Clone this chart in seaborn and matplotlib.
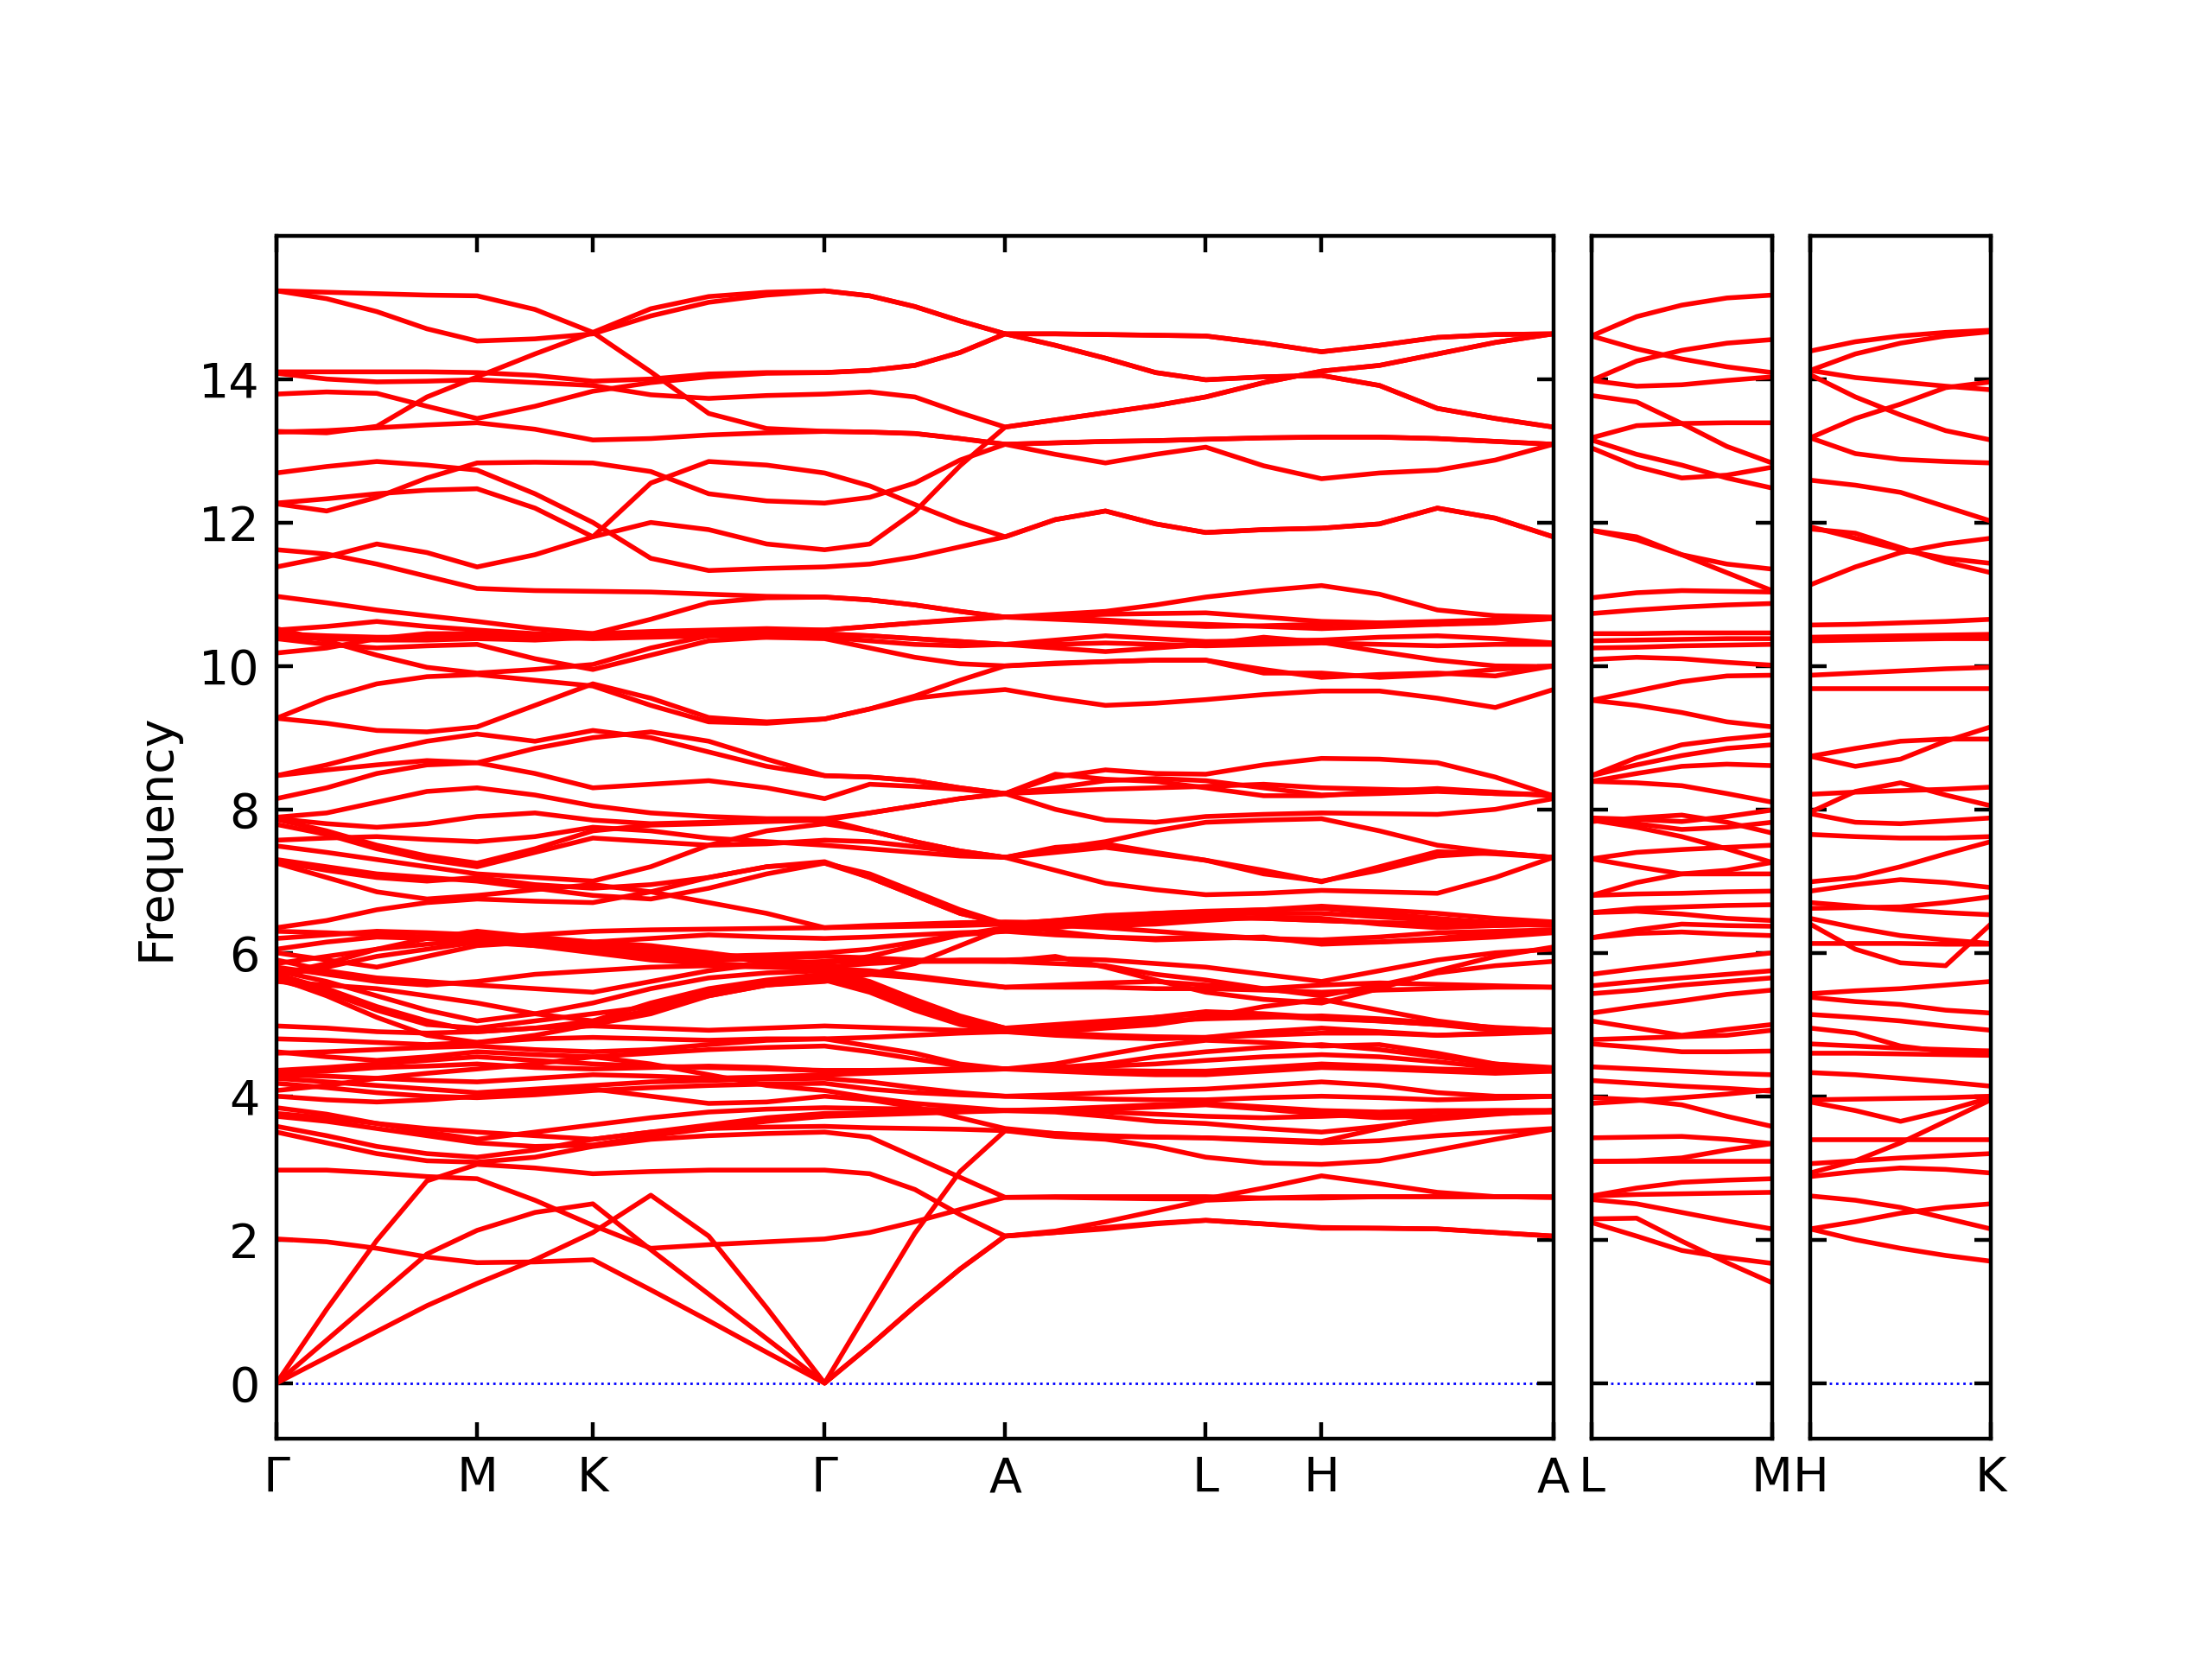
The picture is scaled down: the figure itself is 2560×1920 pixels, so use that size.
import numpy as np
import pandas as pd
import matplotlib
matplotlib.use("Agg")
import matplotlib.pyplot as plt
import seaborn as sns

# path 1: G-M-K-G-A-L-H-A, sampled at 25 points (quarters on long legs, halves on M-K and L-H)
labels_main = ["Γ", "M", "K", "Γ", "A", "L", "H", "A"]
seg_main = [1.0, 0.577, 1.155, 0.9, 1.0, 0.577, 1.155]
steps_main = [4, 2, 4, 4, 4, 2, 4]
labels_lm = ["L", "M"]
labels_hk = ["H", "K"]
seg_side = [0.9]
steps_side = [4]

bands_top = [
    [15.23, 15.21, 15.19, 15.17, 15.16, 14.97, 14.65, 14.10, 13.52, 13.31, 13.27, 13.26, 13.24, 13.17, 13.09, 12.95, 12.83, 12.95, 13.05, 12.79, 12.61, 12.69, 12.73, 12.87, 13.09],
    [15.23, 15.12, 14.94, 14.70, 14.53, 14.56, 14.63, 14.88, 15.07, 15.17, 15.23, 15.16, 15.01, 14.81, 14.63, 14.63, 14.62, 14.61, 14.60, 14.50, 14.38, 14.47, 14.58, 14.62, 14.63],
    [13.27, 13.25, 13.34, 13.75, 14.03, 14.35, 14.65, 14.98, 15.15, 15.21, 15.23, 15.16, 15.01, 14.81, 14.63, 14.47, 14.29, 14.09, 13.99, 14.03, 14.05, 13.91, 13.59, 13.45, 13.33],
    [14.10, 14.10, 14.10, 14.10, 14.09, 14.05, 13.97, 14.00, 14.07, 14.09, 14.09, 14.12, 14.19, 14.37, 14.63, 14.63, 14.62, 14.61, 14.60, 14.50, 14.38, 14.47, 14.58, 14.62, 14.63],
    [14.08, 14.00, 13.96, 13.97, 13.99, 13.95, 13.91, 13.78, 13.73, 13.77, 13.79, 13.82, 13.75, 13.53, 13.33, 13.43, 13.53, 13.63, 13.75, 13.95, 14.11, 14.19, 14.35, 14.51, 14.63],
    [13.79, 13.82, 13.80, 13.62, 13.45, 13.62, 13.83, 13.95, 14.03, 14.08, 14.09, 14.12, 14.19, 14.37, 14.63, 14.47, 14.29, 14.09, 13.99, 14.03, 14.05, 13.91, 13.59, 13.45, 13.33],
    [13.26, 13.28, 13.32, 13.36, 13.39, 13.30, 13.15, 13.17, 13.22, 13.25, 13.27, 13.26, 13.24, 13.17, 13.09, 13.11, 13.13, 13.14, 13.16, 13.18, 13.19, 13.19, 13.17, 13.13, 13.09],
    [12.69, 12.78, 12.85, 12.80, 12.73, 12.40, 12.00, 11.50, 11.33, 11.36, 11.38, 11.42, 11.52, 11.66, 11.80, 12.04, 12.16, 11.98, 11.86, 11.90, 11.92, 11.98, 12.20, 12.06, 11.80],
    [12.27, 12.33, 12.40, 12.45, 12.47, 12.20, 11.80, 12.00, 11.90, 11.70, 11.62, 11.70, 12.15, 12.79, 13.33, 13.43, 13.53, 13.63, 13.75, 13.95, 14.11, 14.19, 14.35, 14.51, 14.63],
    [12.26, 12.16, 12.35, 12.62, 12.83, 12.84, 12.83, 12.71, 12.40, 12.30, 12.27, 12.35, 12.55, 12.87, 13.09, 13.11, 13.13, 13.14, 13.16, 13.18, 13.19, 13.19, 13.17, 13.13, 13.09],
    [11.62, 11.56, 11.42, 11.25, 11.08, 11.05, 11.04, 11.03, 11.00, 10.97, 10.96, 10.92, 10.85, 10.76, 10.68, 10.72, 10.76, 10.85, 10.96, 11.05, 11.12, 11.00, 10.78, 10.70, 10.68],
    [11.38, 11.52, 11.70, 11.58, 11.38, 11.55, 11.80, 12.55, 12.85, 12.80, 12.69, 12.51, 12.25, 12.00, 11.80, 12.04, 12.16, 11.98, 11.86, 11.90, 11.92, 11.98, 12.20, 12.06, 11.80],
]

bands_upper = [
    [10.97, 10.88, 10.78, 10.70, 10.62, 10.52, 10.45, 10.65, 10.88, 10.95, 10.96, 10.92, 10.85, 10.76, 10.68, 10.70, 10.72, 10.73, 10.74, 10.68, 10.62, 10.60, 10.58, 10.60, 10.66],
    [10.50, 10.55, 10.62, 10.55, 10.50, 10.45, 10.42, 10.44, 10.46, 10.48, 10.50, 10.55, 10.60, 10.65, 10.68, 10.65, 10.62, 10.58, 10.55, 10.56, 10.58, 10.60, 10.62, 10.64, 10.66],
    [10.45, 10.42, 10.40, 10.40, 10.42, 10.40, 10.38, 10.40, 10.42, 10.44, 10.44, 10.42, 10.38, 10.34, 10.30, 10.36, 10.42, 10.38, 10.34, 10.35, 10.36, 10.40, 10.42, 10.38, 10.32],
    [10.40, 10.38, 10.36, 10.36, 10.38, 10.36, 10.40, 10.45, 10.43, 10.40, 10.38, 10.25, 10.12, 10.03, 10.00, 10.03, 10.06, 10.08, 10.08, 9.95, 9.84, 9.88, 9.90, 9.86, 10.00],
    [10.38, 10.30, 10.25, 10.28, 10.30, 10.10, 9.95, 10.15, 10.35, 10.40, 10.40, 10.35, 10.30, 10.28, 10.30, 10.25, 10.20, 10.25, 10.30, 10.40, 10.33, 10.20, 10.08, 10.00, 9.99],
    [10.18, 10.25, 10.38, 10.45, 10.45, 10.40, 10.45, 10.48, 10.50, 10.52, 10.50, 10.55, 10.60, 10.64, 10.68, 10.68, 10.64, 10.60, 10.58, 10.55, 10.52, 10.55, 10.58, 10.62, 10.66],
    [10.52, 10.35, 10.15, 9.98, 9.90, 9.95, 10.02, 10.25, 10.42, 10.45, 10.45, 10.42, 10.38, 10.34, 10.30, 10.30, 10.32, 10.30, 10.28, 10.30, 10.32, 10.30, 10.28, 10.30, 10.30],
    [9.27, 9.20, 9.10, 9.08, 9.15, 9.45, 9.75, 9.55, 9.28, 9.22, 9.26, 9.40, 9.58, 9.80, 10.00, 10.04, 10.06, 10.08, 10.08, 9.90, 9.90, 9.84, 9.88, 9.95, 10.00],
    [9.27, 9.55, 9.75, 9.85, 9.88, 9.80, 9.72, 9.45, 9.22, 9.20, 9.26, 9.40, 9.55, 9.62, 9.67, 9.55, 9.45, 9.48, 9.53, 9.60, 9.65, 9.65, 9.55, 9.42, 9.67],
    [8.47, 8.62, 8.80, 8.95, 9.05, 8.95, 9.10, 9.00, 8.80, 8.60, 8.47, 8.45, 8.40, 8.30, 8.22, 8.45, 8.55, 8.50, 8.49, 8.62, 8.71, 8.70, 8.65, 8.45, 8.19],
    [8.15, 8.30, 8.50, 8.62, 8.65, 8.50, 8.30, 8.35, 8.40, 8.30, 8.15, 8.35, 8.32, 8.28, 8.22, 8.49, 8.42, 8.39, 8.30, 8.19, 8.19, 8.25, 8.29, 8.24, 8.19],
    [8.47, 8.55, 8.62, 8.68, 8.65, 8.85, 9.00, 9.08, 8.95, 8.70, 8.47, 8.45, 8.40, 8.30, 8.22, 8.25, 8.28, 8.30, 8.32, 8.35, 8.30, 8.28, 8.26, 8.22, 8.20],
]

bands_middle = [
    [7.89, 7.95, 8.10, 8.25, 8.30, 8.20, 8.05, 7.95, 7.90, 7.87, 7.87, 7.95, 8.05, 8.15, 8.22, 8.00, 7.85, 7.82, 7.90, 7.93, 7.95, 7.94, 7.93, 8.00, 8.15],
    [7.87, 7.80, 7.75, 7.80, 7.90, 7.95, 7.85, 7.80, 7.82, 7.85, 7.86, 7.70, 7.55, 7.42, 7.33, 7.47, 7.52, 7.40, 7.29, 7.15, 6.99, 7.20, 7.41, 7.38, 7.33],
    [7.86, 7.70, 7.50, 7.35, 7.25, 7.45, 7.70, 7.78, 7.80, 7.83, 7.85, 7.95, 8.05, 8.15, 8.22, 8.30, 8.40, 8.43, 8.40, 8.30, 8.20, 8.22, 8.25, 8.22, 8.20],
    [7.79, 7.65, 7.45, 7.30, 7.20, 7.40, 7.60, 7.55, 7.50, 7.52, 7.57, 7.55, 7.48, 7.40, 7.33, 7.15, 6.97, 6.88, 6.81, 6.83, 6.87, 6.85, 6.83, 7.05, 7.33],
    [7.57, 7.60, 7.62, 7.58, 7.55, 7.62, 7.75, 7.70, 7.60, 7.55, 7.50, 7.45, 7.40, 7.35, 7.33, 7.45, 7.55, 7.70, 7.82, 7.85, 7.87, 7.70, 7.50, 7.40, 7.33],
    [7.49, 7.40, 7.30, 7.20, 7.10, 7.05, 7.00, 7.20, 7.50, 7.70, 7.80, 7.70, 7.55, 7.42, 7.33, 7.40, 7.47, 7.38, 7.29, 7.10, 7.00, 7.15, 7.35, 7.40, 7.33],
    [7.27, 7.15, 7.05, 7.00, 7.05, 6.95, 6.90, 6.95, 7.05, 7.20, 7.27, 7.05, 6.80, 6.55, 6.40, 6.45, 6.52, 6.55, 6.57, 6.60, 6.65, 6.60, 6.55, 6.48, 6.43],
    [7.25, 7.05, 6.85, 6.75, 6.80, 6.88, 6.95, 6.85, 6.70, 6.55, 6.35, 6.38, 6.40, 6.42, 6.43, 6.42, 6.38, 6.40, 6.45, 6.50, 6.48, 6.40, 6.35, 6.38, 6.40],
    [7.30, 7.20, 7.10, 7.05, 7.00, 6.90, 6.80, 6.75, 6.90, 7.10, 7.25, 7.10, 6.85, 6.60, 6.40, 6.40, 6.42, 6.45, 6.48, 6.48, 6.45, 6.42, 6.40, 6.40, 6.40],
    [6.35, 6.45, 6.60, 6.70, 6.75, 6.72, 6.70, 6.85, 7.05, 7.20, 7.25, 7.05, 6.80, 6.55, 6.40, 6.30, 6.22, 6.18, 6.20, 6.22, 6.12, 6.15, 6.20, 6.28, 6.30],
    [6.30, 6.28, 6.25, 6.22, 6.20, 6.25, 6.30, 6.32, 6.33, 6.34, 6.35, 6.36, 6.37, 6.38, 6.40, 6.45, 6.50, 6.55, 6.58, 6.60, 6.62, 6.55, 6.48, 6.42, 6.40],
    [6.20, 6.25, 6.30, 6.28, 6.25, 6.20, 6.15, 6.20, 6.25, 6.22, 6.20, 6.22, 6.25, 6.28, 6.30, 6.35, 6.42, 6.48, 6.52, 6.48, 6.45, 6.42, 6.40, 6.38, 6.40],
    [6.05, 6.15, 6.22, 6.20, 6.15, 6.10, 6.05, 6.00, 5.95, 5.97, 6.00, 6.05, 6.15, 6.25, 6.30, 6.25, 6.22, 6.20, 6.22, 6.20, 6.15, 6.15, 6.18, 6.22, 6.28],
    [6.00, 5.90, 5.80, 5.95, 6.10, 6.15, 6.05, 5.95, 5.90, 5.92, 5.95, 5.93, 5.90, 5.89, 5.88, 5.95, 5.80, 5.62, 5.45, 5.35, 5.30, 5.50, 5.75, 5.95, 6.08],
    [5.85, 5.95, 6.05, 6.12, 6.18, 6.10, 6.00, 5.90, 5.85, 5.82, 5.80, 5.85, 5.88, 5.90, 5.90, 5.92, 5.90, 5.85, 5.80, 5.70, 5.60, 5.75, 5.90, 6.00, 6.05],
    [5.90, 5.75, 5.65, 5.60, 5.55, 5.50, 5.45, 5.60, 5.75, 5.85, 5.88, 5.88, 5.88, 5.88, 5.88, 5.85, 5.82, 5.70, 5.62, 5.50, 5.40, 5.55, 5.72, 5.82, 5.88],
    [5.80, 5.70, 5.60, 5.55, 5.60, 5.70, 5.75, 5.80, 5.82, 5.80, 5.78, 5.75, 5.68, 5.60, 5.52, 5.52, 5.52, 5.50, 5.50, 5.48, 5.45, 5.48, 5.50, 5.52, 5.52],
    [5.75, 5.60, 5.40, 5.20, 5.05, 5.15, 5.30, 5.50, 5.65, 5.72, 5.75, 5.60, 5.35, 5.12, 4.95, 5.00, 5.05, 5.10, 5.15, 5.12, 5.08, 5.05, 5.00, 4.95, 4.92],
    [5.70, 5.50, 5.25, 5.05, 4.90, 4.95, 5.05, 5.30, 5.50, 5.62, 5.70, 5.55, 5.30, 5.10, 4.95, 4.90, 4.95, 5.00, 5.10, 5.25, 5.35, 5.20, 5.05, 4.95, 4.92],
    [5.65, 5.40, 5.10, 4.85, 4.75, 4.85, 5.00, 5.15, 5.40, 5.55, 5.62, 5.45, 5.20, 5.00, 4.90, 4.85, 4.82, 4.80, 4.82, 4.90, 4.95, 4.90, 4.85, 4.88, 4.90],
    [5.62, 5.45, 5.20, 5.00, 4.95, 5.05, 5.15, 5.25, 5.45, 5.60, 5.65, 5.50, 5.25, 5.05, 4.92, 4.95, 5.00, 5.05, 5.08, 5.10, 5.12, 5.08, 5.02, 4.96, 4.92],
    [5.60, 5.55, 5.50, 5.40, 5.30, 5.15, 5.05, 5.20, 5.40, 5.55, 5.60, 5.70, 5.85, 6.10, 6.35, 6.40, 6.45, 6.50, 6.55, 6.55, 6.55, 6.50, 6.45, 6.40, 6.38],
    [5.68, 5.80, 5.95, 6.05, 6.15, 6.20, 6.10, 6.05, 6.00, 5.90, 5.85, 5.95, 6.10, 6.25, 6.35, 6.38, 6.35, 6.30, 6.25, 6.20, 6.18, 6.22, 6.28, 6.30, 6.32],
    [5.70, 5.85, 6.05, 6.20, 6.30, 6.22, 6.15, 6.10, 6.00, 5.85, 5.72, 5.70, 5.65, 5.58, 5.52, 5.55, 5.58, 5.60, 5.55, 5.50, 5.55, 5.58, 5.56, 5.54, 5.52],
]

bands_lower = [
    [4.98, 4.95, 4.90, 4.88, 4.90, 4.95, 4.98, 4.95, 4.92, 4.95, 4.98, 4.96, 4.94, 4.92, 4.90, 4.95, 5.00, 5.10, 5.18, 5.15, 5.10, 5.05, 5.00, 4.92, 4.90],
    [4.80, 4.78, 4.75, 4.72, 4.75, 4.80, 4.82, 4.80, 4.78, 4.80, 4.80, 4.82, 4.85, 4.88, 4.90, 4.88, 4.85, 4.83, 4.82, 4.85, 4.88, 4.88, 4.85, 4.87, 4.90],
    [4.62, 4.55, 4.50, 4.55, 4.62, 4.58, 4.55, 4.60, 4.65, 4.68, 4.70, 4.62, 4.52, 4.42, 4.38, 4.40, 4.45, 4.55, 4.62, 4.68, 4.72, 4.65, 4.55, 4.45, 4.40],
    [4.60, 4.62, 4.65, 4.68, 4.70, 4.65, 4.62, 4.65, 4.72, 4.78, 4.80, 4.70, 4.60, 4.45, 4.38, 4.45, 4.58, 4.70, 4.78, 4.75, 4.70, 4.72, 4.60, 4.45, 4.38],
    [4.36, 4.40, 4.45, 4.50, 4.55, 4.50, 4.45, 4.42, 4.40, 4.38, 4.36, 4.36, 4.36, 4.37, 4.38, 4.40, 4.42, 4.45, 4.50, 4.55, 4.58, 4.55, 4.48, 4.40, 4.38],
    [4.32, 4.35, 4.40, 4.42, 4.45, 4.40, 4.38, 4.40, 4.42, 4.40, 4.35, 4.36, 4.37, 4.38, 4.38, 4.38, 4.36, 4.35, 4.35, 4.40, 4.45, 4.42, 4.38, 4.36, 4.35],
    [4.30, 4.28, 4.25, 4.22, 4.20, 4.25, 4.30, 4.28, 4.25, 4.27, 4.30, 4.32, 4.34, 4.36, 4.38, 4.35, 4.32, 4.30, 4.30, 4.35, 4.40, 4.38, 4.35, 4.32, 4.35],
    [4.25, 4.20, 4.15, 4.10, 4.05, 4.10, 4.15, 4.20, 4.22, 4.24, 4.25, 4.20, 4.12, 4.05, 4.00, 4.02, 4.05, 4.08, 4.10, 4.15, 4.20, 4.15, 4.05, 4.00, 4.00],
    [4.18, 4.12, 4.05, 4.00, 3.98, 4.02, 4.08, 4.12, 4.15, 4.17, 4.18, 4.10, 4.05, 4.02, 4.00, 3.98, 3.96, 3.95, 3.95, 3.98, 4.00, 3.98, 3.95, 3.97, 4.00],
    [4.08, 4.15, 4.25, 4.32, 4.38, 4.45, 4.55, 4.45, 4.30, 4.15, 4.08, 3.98, 3.90, 3.85, 3.80, 3.80, 3.82, 3.85, 3.88, 3.82, 3.75, 3.70, 3.72, 3.76, 3.80],
    [4.00, 3.95, 3.92, 3.95, 4.00, 4.05, 4.10, 4.00, 3.90, 3.92, 4.00, 3.95, 3.85, 3.70, 3.55, 3.48, 3.44, 3.43, 3.42, 3.38, 3.35, 3.38, 3.45, 3.50, 3.55],
    [3.84, 3.75, 3.62, 3.50, 3.40, 3.50, 3.60, 3.70, 3.78, 3.82, 3.84, 3.83, 3.82, 3.81, 3.80, 3.78, 3.72, 3.65, 3.62, 3.55, 3.50, 3.58, 3.68, 3.75, 3.80],
    [3.76, 3.70, 3.62, 3.55, 3.50, 3.45, 3.40, 3.50, 3.60, 3.70, 3.76, 3.77, 3.78, 3.79, 3.80, 3.80, 3.78, 3.75, 3.72, 3.70, 3.72, 3.75, 3.78, 3.80, 3.80],
    [3.72, 3.65, 3.55, 3.45, 3.35, 3.30, 3.32, 3.45, 3.55, 3.65, 3.72, 3.74, 3.76, 3.78, 3.80, 3.82, 3.85, 3.88, 3.90, 3.85, 3.80, 3.78, 3.80, 3.80, 3.80],
    [3.58, 3.45, 3.30, 3.20, 3.15, 3.25, 3.40, 3.50, 3.55, 3.57, 3.58, 3.56, 3.55, 3.54, 3.52, 3.48, 3.45, 3.43, 3.42, 3.40, 3.37, 3.55, 3.72, 3.76, 3.78],
    [3.50, 3.35, 3.20, 3.10, 3.08, 3.15, 3.30, 3.40, 3.45, 3.48, 3.50, 3.43, 3.15, 2.87, 2.59, 2.60, 2.60, 2.60, 2.60, 2.58, 2.58, 2.60, 2.60, 2.60, 2.59],
    [2.97, 2.97, 2.93, 2.88, 2.85, 2.55, 2.20, 1.88, 1.93, 1.97, 2.01, 2.10, 2.25, 2.42, 2.59, 2.59, 2.58, 2.57, 2.57, 2.72, 2.89, 2.78, 2.66, 2.60, 2.59],
    [2.01, 1.97, 1.88, 1.76, 1.68, 1.69, 1.72, 1.30, 0.87, 0.43, 0.00, 1.05, 2.09, 2.95, 3.52, 3.44, 3.40, 3.30, 3.15, 3.07, 3.05, 3.10, 3.25, 3.40, 3.54],
    [0.00, 1.03, 1.99, 2.82, 3.05, 3.00, 2.92, 2.95, 2.97, 2.97, 2.97, 2.92, 2.70, 2.35, 2.05, 2.10, 2.15, 2.22, 2.27, 2.22, 2.17, 2.16, 2.15, 2.10, 2.05],
    [0.00, 0.60, 1.20, 1.80, 2.13, 2.38, 2.50, 1.86, 1.24, 0.62, 0.00, 0.52, 1.07, 1.59, 2.05, 2.12, 2.25, 2.40, 2.55, 2.58, 2.60, 2.60, 2.60, 2.60, 2.60],
    [0.00, 0.36, 0.72, 1.08, 1.39, 1.72, 2.10, 2.62, 2.05, 1.05, 0.00, 0.52, 1.07, 1.59, 2.05, 2.10, 2.17, 2.23, 2.27, 2.22, 2.16, 2.16, 2.15, 2.10, 2.05],
]

# L-M panel, 5 samples each
bands_lm = [
    [14.60, 14.87, 15.03, 15.13, 15.17], [14.60, 14.42, 14.28, 14.17, 14.09],
    [13.98, 14.25, 14.40, 14.50, 14.55], [13.98, 13.90, 13.92, 13.98, 14.03],
    [13.77, 13.68, 13.38, 13.06, 12.83], [13.18, 13.35, 13.38, 13.39, 13.39],
    [13.04, 12.78, 12.62, 12.66, 12.77], [13.15, 12.95, 12.80, 12.62, 12.48],
    [11.89, 11.80, 11.55, 11.42, 11.35], [11.89, 11.76, 11.55, 11.30, 11.05],
    [10.95, 11.02, 11.05, 11.04, 11.03], [10.73, 10.78, 10.82, 10.85, 10.87],
    [10.45, 10.45, 10.46, 10.46, 10.46], [10.35, 10.36, 10.37, 10.38, 10.38],
    [10.25, 10.26, 10.28, 10.29, 10.30], [10.09, 10.12, 10.10, 10.05, 10.01],
    [9.52, 9.65, 9.78, 9.86, 9.87], [9.52, 9.45, 9.35, 9.22, 9.15],
    [8.47, 8.72, 8.90, 8.98, 9.04], [8.47, 8.62, 8.75, 8.85, 8.90],
    [8.39, 8.50, 8.60, 8.63, 8.61], [8.39, 8.37, 8.33, 8.22, 8.10],
    [7.88, 7.86, 7.83, 7.90, 7.99], [7.83, 7.88, 7.92, 7.82, 7.67],
    [7.85, 7.80, 7.72, 7.75, 7.82], [7.85, 7.75, 7.62, 7.45, 7.26],
    [7.31, 7.40, 7.44, 7.47, 7.50], [7.31, 7.20, 7.10, 7.15, 7.26],
    [6.80, 6.98, 7.10, 7.10, 7.10], [6.80, 6.82, 6.83, 6.85, 6.86],
    [6.56, 6.62, 6.64, 6.66, 6.67], [6.56, 6.58, 6.54, 6.48, 6.45],
    [6.21, 6.32, 6.40, 6.38, 6.37], [6.21, 6.27, 6.29, 6.26, 6.24],
    [5.70, 5.78, 5.85, 5.93, 6.00], [5.54, 5.60, 5.65, 5.70, 5.75],
    [5.43, 5.48, 5.55, 5.60, 5.65], [5.16, 5.25, 5.33, 5.42, 5.48],
    [5.05, 4.95, 4.85, 4.93, 5.00], [4.79, 4.81, 4.83, 4.85, 4.92],
    [4.73, 4.68, 4.62, 4.62, 4.63], [4.41, 4.38, 4.35, 4.32, 4.30],
    [4.22, 4.18, 4.14, 4.11, 4.07], [3.90, 3.94, 3.98, 4.03, 4.09],
    [3.98, 3.95, 3.88, 3.72, 3.58], [3.42, 3.43, 3.44, 3.40, 3.34],
    [3.09, 3.10, 3.14, 3.25, 3.34], [3.09, 3.09, 3.09, 3.09, 3.09],
    [2.61, 2.72, 2.80, 2.83, 2.85], [2.61, 2.63, 2.64, 2.65, 2.66],
    [2.56, 2.50, 2.38, 2.26, 2.15], [2.29, 2.30, 1.98, 1.68, 1.40],
    [2.24, 2.05, 1.85, 1.75, 1.67],
]

# H-K panel, 5 samples each
bands_hk = [
    [14.39, 14.52, 14.60, 14.65, 14.68], [14.12, 14.35, 14.50, 14.60, 14.66],
    [14.12, 14.02, 13.96, 13.90, 13.85], [14.06, 13.75, 13.50, 13.28, 13.15],
    [13.18, 13.45, 13.65, 13.88, 13.96], [13.18, 12.96, 12.88, 12.85, 12.83],
    [12.59, 12.52, 12.42, 12.22, 12.02], [11.94, 11.78, 11.62, 11.50, 11.43],
    [11.91, 11.85, 11.65, 11.45, 11.30], [11.13, 11.38, 11.58, 11.70, 11.78],
    [10.57, 10.58, 10.60, 10.62, 10.65], [10.40, 10.41, 10.42, 10.43, 10.44],
    [10.35, 10.36, 10.37, 10.38, 10.38], [9.87, 9.90, 9.93, 9.96, 9.98],
    [9.68, 9.68, 9.68, 9.68, 9.68], [8.74, 8.60, 8.70, 8.95, 9.15],
    [8.74, 8.85, 8.95, 8.98, 8.98], [8.21, 8.24, 8.26, 8.28, 8.31],
    [7.96, 8.25, 8.37, 8.20, 8.05], [7.94, 7.82, 7.80, 7.84, 7.88],
    [7.65, 7.62, 7.60, 7.60, 7.62], [6.99, 7.05, 7.20, 7.38, 7.55],
    [6.86, 6.95, 7.02, 6.98, 6.91], [6.70, 6.65, 6.60, 6.56, 6.53],
    [6.62, 6.63, 6.64, 6.70, 6.78], [6.48, 6.35, 6.24, 6.18, 6.13],
    [6.40, 6.05, 5.86, 5.82, 6.40], [6.13, 6.13, 6.13, 6.12, 6.12],
    [5.43, 5.47, 5.50, 5.55, 5.60], [5.38, 5.32, 5.28, 5.20, 5.16],
    [5.14, 5.10, 5.05, 4.98, 4.92], [4.95, 4.88, 4.70, 4.62, 4.63],
    [4.73, 4.70, 4.67, 4.65, 4.63], [4.60, 4.60, 4.59, 4.58, 4.57],
    [4.33, 4.30, 4.25, 4.20, 4.14], [3.95, 3.96, 3.97, 3.98, 4.00],
    [3.92, 3.80, 3.65, 3.80, 3.98], [3.39, 3.39, 3.39, 3.39, 3.39],
    [3.06, 3.10, 3.14, 3.17, 3.20], [2.93, 3.10, 3.35, 3.65, 3.95],
    [2.88, 2.95, 3.00, 2.98, 2.93], [2.61, 2.55, 2.45, 2.30, 2.15],
    [2.15, 2.25, 2.37, 2.45, 2.50], [2.15, 2.00, 1.88, 1.78, 1.70],
]


def path_positions(seg_lengths, steps):
    xs = [0.0]
    ticks = [0.0]
    for length, n in zip(seg_lengths, steps):
        start = ticks[-1]
        xs += list(start + length * np.arange(1, n + 1) / n)
        ticks.append(start + length)
    return np.array(xs), ticks


def to_frame(bands, xs):
    rows = []
    for i, band in enumerate(bands):
        assert len(band) == len(xs), (i, len(band))
        for x, f in zip(xs, band):
            rows.append({"x": x, "freq": f, "band": i})
    return pd.DataFrame(rows)


x_main, ticks_main = path_positions(seg_main, steps_main)
x_side, ticks_side = path_positions(seg_side, steps_side)

panels = [
    (to_frame(bands_top + bands_upper + bands_middle + bands_lower, x_main), ticks_main, labels_main),
    (to_frame(bands_lm, x_side), ticks_side, labels_lm),
    (to_frame(bands_hk, x_side), ticks_side, labels_hk),
]

fig = plt.figure(figsize=(6.4, 4.8), dpi=400)
gs = fig.add_gridspec(1, 3, width_ratios=[sum(seg_main), 0.9, 0.9],
                      left=0.125, right=0.9, bottom=0.133, top=0.858, wspace=0.07)

for k, (df, ticks, labels) in enumerate(panels):
    ax = fig.add_subplot(gs[0, k])
    ax.axhline(0, color="blue", linestyle=":", linewidth=0.5, zorder=1)
    sns.lineplot(data=df, x="x", y="freq", units="band", estimator=None, sort=False,
                 color="red", linewidth=1.0, ax=ax, legend=False, zorder=2)
    ax.set_xlim(ticks[0], ticks[-1])
    ax.set_ylim(-0.77, 16.0)
    ax.set_xticks(ticks)
    ax.set_xticklabels(labels)
    ax.set_yticks(np.arange(0, 15, 2))
    ax.tick_params(direction="in", top=True, right=True, bottom=True, left=True)
    ax.set_xlabel("")
    if k == 0:
        ax.set_ylabel("Frequency")
    else:
        ax.set_ylabel("")
        ax.tick_params(labelleft=False)

fig.savefig("out.png", dpi=400)
